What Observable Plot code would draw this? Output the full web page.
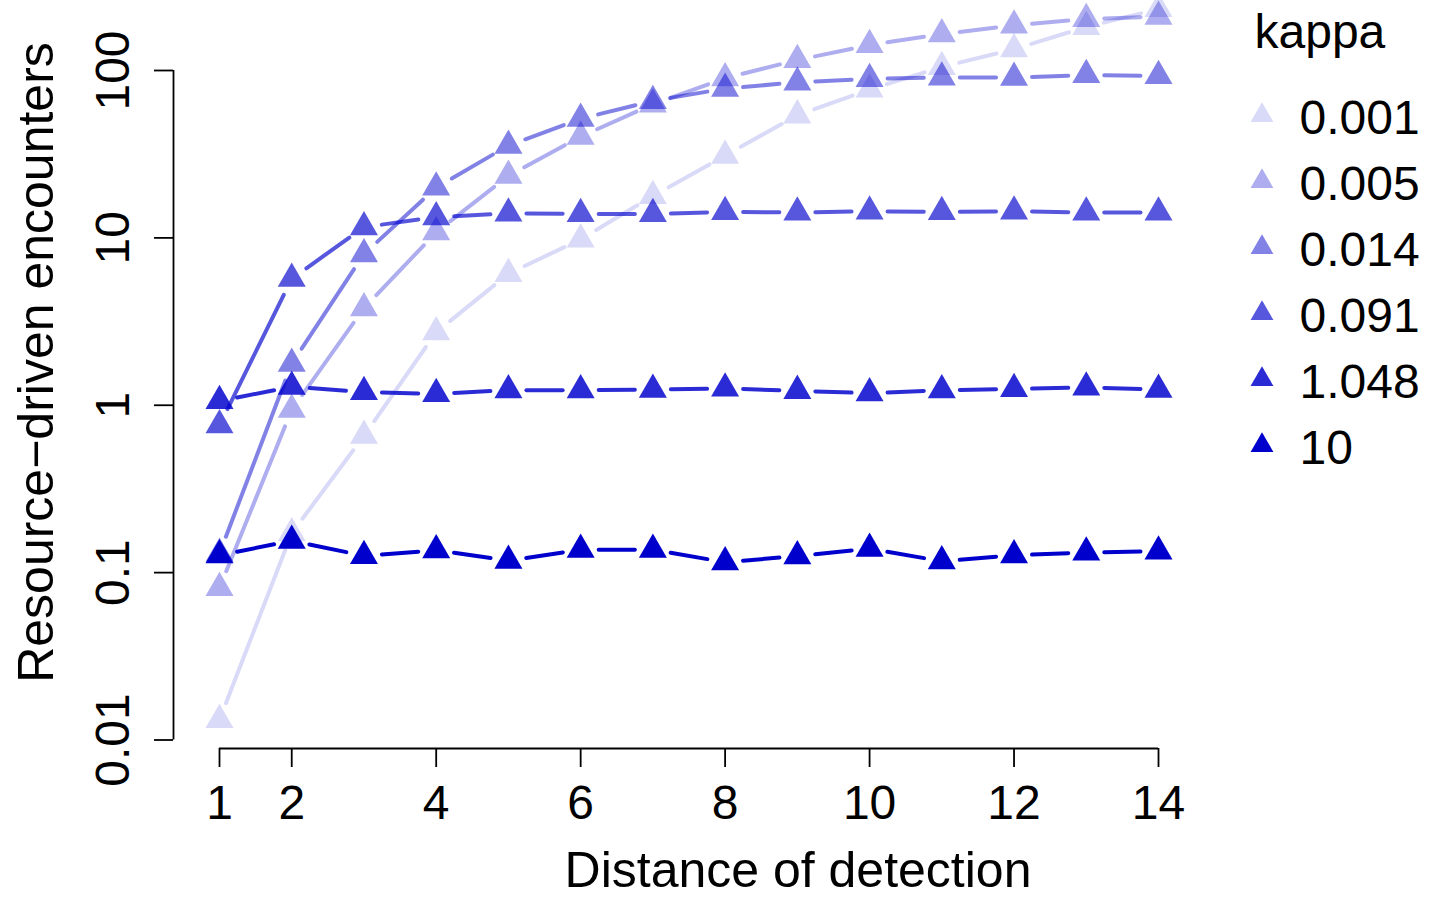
<!DOCTYPE html>
<html>
<head>
<meta charset="utf-8">
<script src="https://cdn.jsdelivr.net/npm/d3@7"></script>
<script src="https://cdn.jsdelivr.net/npm/@observablehq/plot@0.6"></script>
<style>
  html, body { margin: 0; padding: 0; background: #ffffff; }
  #wrap { position: relative; width: 1429px; height: 899px; overflow: hidden; background: #ffffff; }
  #wrap svg { position: absolute; overflow: visible; }
</style>
</head>
<body>
<div id="wrap"></div>
<script>
// ---------------- data ----------------
const distance = [1, 2, 3, 4, 5, 6, 7, 8, 9, 10, 11, 12, 13, 14];
const kappaLabels = ["0.001", "0.005", "0.014", "0.091", "1.048", "10"];
const enc_k0001 = [0.0132, 0.172, 0.657, 2.73, 6.1, 9.8, 17.8, 31, 54, 77, 105, 134, 182, 233];
const enc_k0005 = [0.081, 0.94, 3.8, 10.8, 23.5, 40.3, 62.8, 90, 115.5, 142, 165, 186, 203, 210];
const enc_k0014 = [0.13, 1.77, 8.0, 20.0, 35.6, 51.5, 65.8, 78, 85, 89, 91, 90.6, 94, 92.7];
const enc_k0091 = [0.76, 5.7, 11.6, 13.3, 14.0, 13.9, 13.9, 14.3, 14.2, 14.4, 14.3, 14.4, 14.2, 14.2];
const enc_k1048 = [1.06, 1.29, 1.20, 1.17, 1.23, 1.23, 1.24, 1.26, 1.22, 1.18, 1.23, 1.25, 1.28, 1.24];
const enc_k10   = [0.127, 0.155, 0.126, 0.136, 0.118, 0.137, 0.137, 0.1155, 0.1255, 0.139, 0.117, 0.127, 0.132, 0.134];
const xTicks = [1, 2, 4, 6, 8, 10, 12, 14];
const yTicks = [0.01, 0.1, 1, 10, 100];
const yTickLabels = ["0.01", "0.1", "1", "10", "100"];
const xTitle = "Distance of detection";
const yTitle = "Resource\u2212driven encounters";
const legendTitle = "kappa";

// ---------------- styles ----------------
const seriesOpacity = [0.15, 0.32, 0.49, 0.66, 0.83, 1];
const seriesColors = seriesOpacity.map(a => `rgba(0,0,205,${a})`);
const FONT = "'Liberation Sans', Arial, Helvetica, sans-serif";
const GAP = 18;

const seriesValues = [enc_k0001, enc_k0005, enc_k0014, enc_k0091, enc_k1048, enc_k10];

// build tables
const points = seriesValues.map((vals, s) => vals.map((v, j) => ({kappa: kappaLabels[s], x: distance[j], y: v})));
const segments = points.map(pts => pts.slice(1).map((p, j) => ({x1: pts[j].x, y1: pts[j].y, x2: p.x, y2: p.y})));

// R type="b": segments stop short of each point
function gapRender(index, scales, values, dimensions, context, next) {
  const g = next(index, scales, values, dimensions, context);
  const paths = g.querySelectorAll("path");
  const X1 = values.x1, Y1 = values.y1, X2 = values.x2, Y2 = values.y2;
  index.forEach((i, k) => {
    const p = paths[k];
    if (!p) return;
    const x1 = X1[i], y1 = Y1[i], x2 = X2[i], y2 = Y2[i];
    const dx = x2 - x1, dy = y2 - y1, L = Math.hypot(dx, dy);
    if (L <= 2 * GAP) { p.remove(); return; }
    const ux = dx / L, uy = dy / L;
    p.setAttribute("d", `M${x1 + ux * GAP},${y1 + uy * GAP}L${x2 - ux * GAP},${y2 - uy * GAP}`);
  });
  return g;
}

const seriesMarks = [];
points.forEach((pts, s) => {
  seriesMarks.push(Plot.link(segments[s], {
    x1: "x1", y1: "y1", x2: "x2", y2: "y2",
    stroke: seriesColors[s], strokeWidth: 4, strokeLinecap: "round",
    render: gapRender
  }));
  seriesMarks.push(Plot.dot(pts, {
    x: "x", y: "y", symbol: "triangle", r: 10.4,
    fill: seriesColors[s], stroke: "none"
  }));
});

const W = 1429, H = 899;
const mainPlot = Plot.plot({
  width: W, height: H,
  marginLeft: 219, marginRight: 271, marginTop: 70, marginBottom: 159.5,
  style: {fontFamily: FONT, background: "transparent", color: "black", overflow: "visible"},
  x: {domain: [1, 14], axis: null},
  y: {type: "log", domain: [0.01, 100], axis: null},
  marks: [
    // axis lines
    Plot.ruleY([yTicks[0]], {x1: xTicks[0], x2: xTicks[xTicks.length - 1], dy: 8.5, stroke: "black", strokeWidth: 1.8}),
    Plot.ruleX([xTicks[0]], {y1: yTicks[0], y2: yTicks[yTicks.length - 1], dx: -46, stroke: "black", strokeWidth: 1.8}),
    // ticks
    Plot.axisX(xTicks, {anchor: "bottom", tickSize: 19, dy: 8.5, fill: "none", label: null, strokeWidth: 1.8}),
    Plot.axisY(yTicks, {anchor: "left", tickSize: 19, dx: -46, fill: "none", label: null, strokeWidth: 1.8}),
    // tick labels
    Plot.text(xTicks, {x: d => d, text: d => String(d), frameAnchor: "bottom", dy: 78.5, lineAnchor: "bottom", textAnchor: "middle", fontSize: 48, fill: "black"}),
    Plot.text(yTicks, {y: d => d, text: (d, i) => yTickLabels[i], frameAnchor: "left", dx: -106, rotate: -90, lineAnchor: "middle", textAnchor: "middle", fontSize: 48, fill: "black"}),
    // axis titles
    Plot.text([xTitle], {text: d => d, frameAnchor: "bottom", dx: 109, dy: 147, lineAnchor: "bottom", textAnchor: "middle", fontSize: 50, fill: "black"}),
    Plot.text([yTitle], {text: d => d, frameAnchor: "left", dx: -167, dy: -42.75, rotate: -90, lineAnchor: "bottom", textAnchor: "middle", fontSize: 50, fill: "black"}),
    ...seriesMarks
  ]
});
mainPlot.style.left = "0px";
mainPlot.style.top = "0px";

// legend (separate Plot overlaid on the right)
const legendPlot = Plot.plot({
  width: 189, height: 480,
  marginLeft: 0, marginRight: 0, marginTop: 0, marginBottom: 0,
  style: {fontFamily: FONT, background: "transparent", color: "black", overflow: "visible"},
  x: {axis: null},
  y: {type: "point", domain: kappaLabels, range: [113.3, 445.8], padding: 0, axis: null},
  marks: [
    Plot.text([legendTitle], {text: d => d, frameAnchor: "top-left", dx: 14, dy: 47, lineAnchor: "bottom", textAnchor: "start", fontSize: 48, fill: "black"}),
    Plot.dot(kappaLabels, {y: d => d, frameAnchor: "left", dx: 21.5, symbol: "triangle", r: 8.5, fill: (d, i) => seriesColors[i], stroke: "none"}),
    Plot.text(kappaLabels, {y: d => d, text: d => d, frameAnchor: "left", dx: 59, dy: 18.4, lineAnchor: "bottom", textAnchor: "start", fontSize: 48, fill: "black"})
  ]
});
legendPlot.style.left = "1240px";
legendPlot.style.top = "0px";

const wrap = document.getElementById("wrap");
wrap.appendChild(mainPlot);
wrap.appendChild(legendPlot);
</script>
</body>
</html>
